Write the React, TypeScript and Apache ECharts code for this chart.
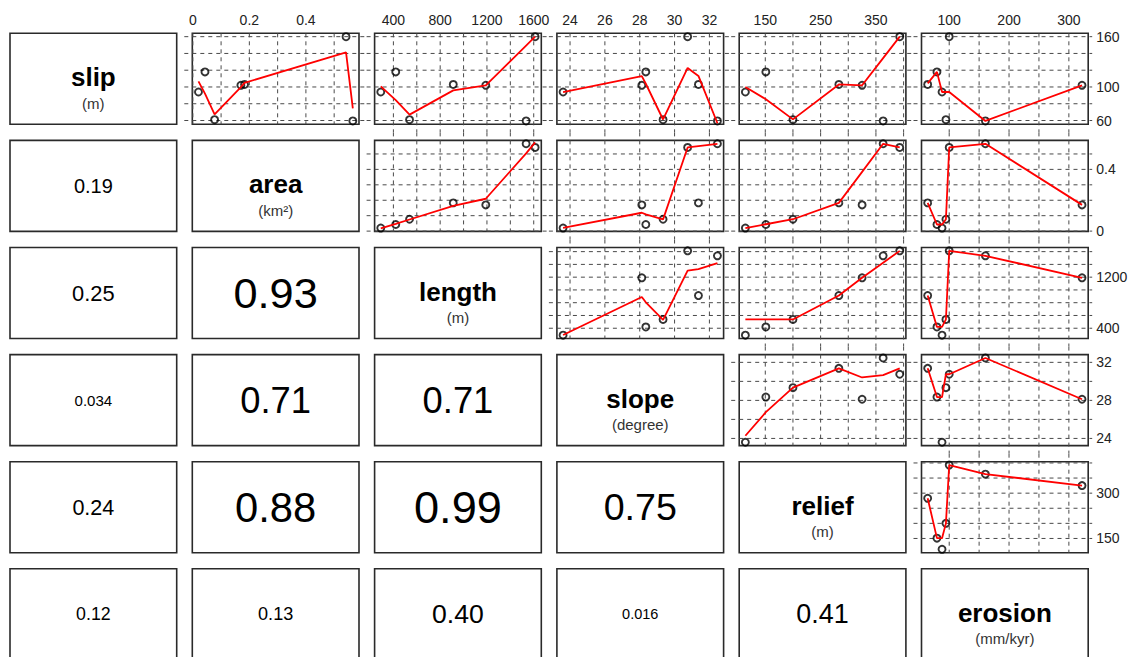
import React, { useEffect, useRef } from "react";
import * as echarts from "echarts";

// ---------------- data ----------------
const varNames = ["slip", "area", "length", "slope", "relief", "erosion"];
const varUnits = ["(m)", "(km²)", "(m)", "(degree)", "(m)", "(mm/kyr)"];

const slip = [94, 118, 61, 103, 102, 160, 59.5];
const area = [0.02, 0.043, 0.077, 0.183, 0.17, 0.542, 0.566];
const length = [292, 420, 538, 912, 1190, 1612, 1535];
const slope = [23.6, 28.35, 29.34, 31.37, 28.12, 30.75, 32.46];
const relief = [114, 151, 200, 283, 325, 393, 363];
const erosion = [88, 79.5, 94.5, 64, 322, 100, 160.5];

// tick labels on the top axis (per column variable) and right axis (per row variable)
const topTickLabels = [[], [0, 0.2, 0.4], [400, 800, 1200, 1600], [24, 26, 28, 30, 32], [150, 250, 350], [100, 200, 300]];
const rightTickLabels = [[60, 100, 160], [0, 0.4], [400, 1200], [24, 28, 32], [150, 300], []];
// dashed grid values per variable
const gridValues = [
  [60, 80, 100, 120, 140, 160],
  [0, 0.1, 0.2, 0.3, 0.4, 0.5],
  [400, 600, 800, 1000, 1200, 1400, 1600],
  [24, 26, 28, 30, 32],
  [150, 200, 250, 300, 350, 400],
  [100, 150, 200, 250, 300],
];
// correlation labels of the lower panels, column by column (col 0 rows 1..5, col 1 rows 2..5, ...)
const corrLabels = ["0.19", "0.25", "0.034", "0.24", "0.12", "0.93", "0.71", "0.88", "0.13", "0.71", "0.99", "0.40", "0.75", "0.016", "0.41"];

// ---------------- helpers ----------------
const FONT = "'Liberation Sans', Arial, Helvetica, sans-serif";

function lowest(x: number[], y: number[], n: number, xs: number, nleft: number, nright: number, w: number[], userw: boolean, rw: number[]) {
  const range = x[n - 1] - x[0];
  const h = Math.max(xs - x[nleft], x[nright] - xs);
  const h9 = 0.999 * h, h1 = 0.001 * h;
  let a = 0;
  let j = nleft;
  while (j < n) {
    w[j] = 0;
    const r = Math.abs(x[j] - xs);
    if (r <= h9) {
      if (r <= h1) w[j] = 1;
      else w[j] = Math.pow(1 - Math.pow(r / h, 3), 3);
      if (userw) w[j] *= rw[j];
      a += w[j];
    } else if (x[j] > xs) break;
    j++;
  }
  const nrt = j - 1;
  if (a <= 0) return { ok: false, ys: 0 };
  for (j = nleft; j <= nrt; j++) w[j] /= a;
  if (h > 0) {
    a = 0;
    for (j = nleft; j <= nrt; j++) a += w[j] * x[j];
    let b = xs - a;
    let c = 0;
    for (j = nleft; j <= nrt; j++) c += w[j] * (x[j] - a) * (x[j] - a);
    if (Math.sqrt(c) > 0.001 * range) {
      b /= c;
      for (j = nleft; j <= nrt; j++) w[j] *= b * (x[j] - a) + 1;
    }
  }
  let ys = 0;
  for (j = nleft; j <= nrt; j++) ys += w[j] * y[j];
  return { ok: true, ys };
}

// R's lowess (clowess), f = 2/3, iter = 3
function lowess(xIn: number[], yIn: number[], f = 2 / 3, nsteps = 3): number[][] {
  const idx = xIn.map((_, i) => i).sort((a, b) => xIn[a] - xIn[b] || a - b);
  const x = idx.map((i) => xIn[i]);
  const y = idx.map((i) => yIn[i]);
  const n = x.length;
  const delta = 0.01 * (x[n - 1] - x[0]);
  const ys = new Array(n).fill(0);
  const rw = new Array(n).fill(0);
  const res = new Array(n).fill(0);
  const ns = Math.max(Math.min(Math.floor(f * n + 1e-7), n), 2);
  let iter = 1;
  while (iter <= nsteps + 1) {
    let nleft = 0, nright = ns - 1, last = -1, i = 0;
    for (;;) {
      if (nright < n - 1) {
        const d1 = x[i] - x[nleft];
        const d2 = x[nright + 1] - x[i];
        if (d1 > d2) {
          nleft++;
          nright++;
          continue;
        }
      }
      const r = lowest(x, y, n, x[i], nleft, nright, res, iter > 1, rw);
      ys[i] = r.ok ? r.ys : y[i];
      if (last < i - 1) {
        const denom = x[i] - x[last];
        for (let j = last + 1; j < i; j++) {
          const alpha = (x[j] - x[last]) / denom;
          ys[j] = alpha * ys[i] + (1 - alpha) * ys[last];
        }
      }
      last = i;
      const cut = x[last] + delta;
      for (i = last + 1; i < n; i++) {
        if (x[i] > cut) break;
        if (x[i] === x[last]) {
          ys[i] = ys[last];
          last = i;
        }
      }
      i = Math.max(last + 1, i - 1);
      if (last >= n - 1) break;
    }
    for (let k = 0; k < n; k++) res[k] = y[k] - ys[k];
    let sc = 0;
    for (let k = 0; k < n; k++) sc += Math.abs(res[k]);
    sc /= n;
    if (iter > nsteps) break;
    for (let k = 0; k < n; k++) rw[k] = Math.abs(res[k]);
    const sorted = rw.slice().sort((a, b) => a - b);
    const m1 = Math.floor(n / 2);
    let cmad: number;
    if (n % 2 === 0) {
      const m2 = n - m1 - 1;
      cmad = 3 * (sorted[m1] + sorted[m2]);
    } else cmad = 6 * sorted[m1];
    if (cmad < 1e-7 * sc) break;
    const c9 = 0.999 * cmad, c1 = 0.001 * cmad;
    for (let k = 0; k < n; k++) {
      const r = Math.abs(res[k]);
      if (r <= c1) rw[k] = 1;
      else if (r <= c9) rw[k] = Math.pow(1 - Math.pow(r / cmad, 2), 2);
      else rw[k] = 0;
    }
    iter++;
  }
  return x.map((xv, k) => [xv, ys[k]]);
}

function buildOption() {
  const vars = [slip, area, length, slope, relief, erosion];
  const N = vars.length;
  const X0 = 10, Y0 = 33.3, W = 166.7, H = 91, DX = 182.3, DY = 107.1;
  const ranges = vars.map((v) => {
    const lo = Math.min(...v), hi = Math.max(...v);
    const p = 0.04 * (hi - lo);
    return [lo - p, hi + p];
  });

  const grids: any[] = [];
  const xAxes: any[] = [];
  const yAxes: any[] = [];
  const series: any[] = [];
  const graphics: any[] = [];
  const labelStyle = { fontSize: 14, color: "#222", fontFamily: FONT };

  let k = 0;
  for (let i = 0; i < N; i++) {
    for (let j = i + 1; j < N; j++) {
      const left = X0 + j * DX;
      const top = Y0 + i * DY;
      grids.push({
        left, top, width: W, height: H, show: true,
        borderColor: "#2a2a2a", borderWidth: 1.6, backgroundColor: "transparent",
        containLabel: false, outerBoundsMode: "none",
      });
      xAxes.push({
        gridIndex: k, type: "value", min: ranges[j][0], max: ranges[j][1],
        position: i === 0 ? "top" : "bottom",
        axisLine: { show: false }, axisTick: { show: false }, splitLine: { show: false },
        axisLabel: i === 0
          ? { show: true, customValues: topTickLabels[j], margin: 6, formatter: (v: number) => String(v), ...labelStyle }
          : { show: false },
      });
      yAxes.push({
        gridIndex: k, type: "value", min: ranges[i][0], max: ranges[i][1],
        position: j === N - 1 ? "right" : "left",
        axisLine: { show: false }, axisTick: { show: false }, splitLine: { show: false },
        axisLabel: j === N - 1
          ? { show: true, customValues: rightTickLabels[i], margin: 8, align: "left", formatter: (v: number) => String(v), ...labelStyle }
          : { show: false },
      });
      const xMin = ranges[j][0];
      const yMin = ranges[i][0];
      const ext = { l: 8, r: j === N - 1 ? 4 : 8, u: i === 0 ? 0 : 8, d: i + 1 < j ? 8 : 0 };
      series.push({
        type: "custom", xAxisIndex: k, yAxisIndex: k, silent: true, z: 1, clip: false,
        data: [...gridValues[j].map((v) => [v, 0]), ...gridValues[i].map((v) => [v, 1])],
        renderItem: (params: any, api: any) => {
          const cs = params.coordSys;
          const v = api.value(0);
          const dir = api.value(1);
          const style = { stroke: "#4a4a4a", lineWidth: 1, lineDash: [4, 4], fill: null };
          if (dir === 0) {
            const px = api.coord([v, yMin])[0];
            return { type: "line", shape: { x1: px, y1: cs.y - ext.u, x2: px, y2: cs.y + cs.height + ext.d }, style };
          }
          const py = api.coord([xMin, v])[1];
          return { type: "line", shape: { x1: cs.x - ext.l, y1: py, x2: cs.x + cs.width + ext.r, y2: py }, style };
        },
      });
      series.push({
        type: "scatter", xAxisIndex: k, yAxisIndex: k, z: 3, silent: true,
        symbol: "circle", symbolSize: 7,
        itemStyle: { color: "rgba(255,255,255,0)", borderColor: "#000", borderWidth: 1.9 },
        data: vars[j].map((xv, n) => [xv, vars[i][n]]),
      });
      series.push({
        type: "line", xAxisIndex: k, yAxisIndex: k, z: 4, silent: true,
        symbol: "none", showSymbol: false,
        lineStyle: { color: "#ff0000", width: 1.8 },
        data: lowess(vars[j], vars[i]),
      });
      k++;
    }
  }

  // diagonal panels
  for (let d = 0; d < N; d++) {
    const left = X0 + d * DX, top = Y0 + d * DY;
    graphics.push({ type: "rect", shape: { x: left, y: top, width: W, height: H }, style: { fill: "#fff", stroke: "#2a2a2a", lineWidth: 1.6 }, z: 10 });
    graphics.push({
      type: "text", x: left + W / 2, y: top + 44, z: 11,
      style: { text: varNames[d], fontSize: 26, fontWeight: "bold", fontFamily: FONT, fill: "#000", align: "center", verticalAlign: "middle" },
    });
    graphics.push({
      type: "text", x: left + W / 2, y: top + 70, z: 11,
      style: { text: varUnits[d], fontSize: 15, fontFamily: FONT, fill: "#333", align: "center", verticalAlign: "middle" },
    });
  }

  // lower panels with correlation text
  let c = 0;
  for (let j = 0; j < N; j++) {
    for (let i = j + 1; i < N; i++) {
      const left = X0 + j * DX, top = Y0 + i * DY;
      const txt = corrLabels[c++];
      const r = parseFloat(txt);
      graphics.push({ type: "rect", shape: { x: left, y: top, width: W, height: H }, style: { fill: "#fff", stroke: "#2a2a2a", lineWidth: 1.6 }, z: 10 });
      graphics.push({
        type: "text", x: left + W / 2, y: top + H / 2, z: 11,
        style: { text: txt, fontSize: 14 + 31.5 * r, fontFamily: FONT, fill: "#000", align: "center", verticalAlign: "middle" },
      });
    }
  }

  return {
    animation: false,
    backgroundColor: "#fff",
    grid: grids,
    xAxis: xAxes,
    yAxis: yAxes,
    series,
    graphic: graphics,
  };
}

export default function App() {
  const ref = useRef<HTMLDivElement>(null);
  useEffect(() => {
    const chart = echarts.init(ref.current as HTMLDivElement, null, { renderer: "svg" });
    chart.setOption(buildOption() as any);
    return () => chart.dispose();
  }, []);
  return (
    <div
      ref={ref}
      style={{ position: "absolute", left: 0, top: 0, width: 1133, height: 657, background: "#fff" }}
    />
  );
}
